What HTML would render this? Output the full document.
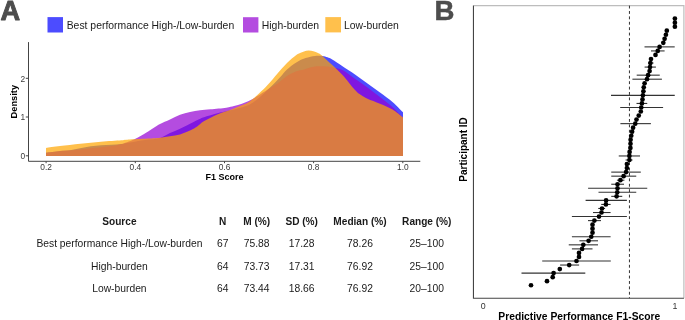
<!DOCTYPE html>
<html><head><meta charset="utf-8"><style>
html,body{margin:0;padding:0;background:#fff;}
body{width:685px;height:320px;overflow:hidden;position:relative;}
svg{position:absolute;left:0;top:0;will-change:transform;font-family:"Liberation Sans",sans-serif;}
</style></head><body>
<svg width="685" height="320" viewBox="0 0 685 320">
<text x="0.6" y="19.5" font-size="27.2" font-weight="bold" fill="#4d4d4d" stroke="#4d4d4d" stroke-width="0.9" stroke-linejoin="round">A</text>
<text x="434.4" y="19.8" font-size="27.6" font-weight="bold" fill="#4d4d4d" stroke="#4d4d4d" stroke-width="0.5" stroke-linejoin="round">B</text>
<rect x="47.5" y="17.1" width="15.5" height="15.4" fill="#0000ff" fill-opacity="0.7"/>
<rect x="243" y="17.2" width="15.4" height="15.3" fill="#9400d3" fill-opacity="0.7"/>
<rect x="325.3" y="17.1" width="15.7" height="15.3" fill="#ffa500" fill-opacity="0.7"/>
<g font-size="10.4" fill="#1a1a1a">
<text x="66.7" y="28.5">Best performance High-/Low-burden</text>
<text x="261.8" y="28.5">High-burden</text>
<text x="344" y="28.5">Low-burden</text>
</g>
<path d="M46.00,152.70 C48.33,152.42 56.00,151.42 60.00,151.00 C64.00,150.58 66.67,150.67 70.00,150.20 C73.33,149.73 76.55,148.85 80.00,148.20 C83.45,147.55 87.20,146.78 90.70,146.30 C94.20,145.82 97.62,145.55 101.00,145.30 C104.38,145.05 107.67,145.02 111.00,144.80 C114.33,144.58 117.83,144.38 121.00,144.00 C124.17,143.62 126.00,143.17 130.00,142.50 C134.00,141.83 140.00,140.75 145.00,140.00 C150.00,139.25 155.83,139.15 160.00,138.00 C164.17,136.85 166.67,134.64 170.00,133.10 C173.33,131.56 176.67,130.31 180.00,128.75 C183.33,127.19 187.08,125.21 190.00,123.75 C192.92,122.29 195.33,121.04 197.50,120.00 C199.67,118.96 200.82,118.28 203.00,117.50 C205.18,116.72 208.03,116.03 210.60,115.30 C213.17,114.57 216.05,113.72 218.40,113.10 C220.75,112.48 221.93,112.23 224.70,111.60 C227.47,110.97 230.83,110.48 235.00,109.30 C239.17,108.12 245.53,106.55 249.70,104.50 C253.87,102.45 256.62,99.83 260.00,97.00 C263.38,94.17 266.62,90.83 270.00,87.50 C273.38,84.17 277.47,80.02 280.30,77.00 C283.13,73.98 284.34,71.83 287.00,69.40 C289.66,66.97 293.15,64.28 296.25,62.40 C299.35,60.52 302.48,59.18 305.60,58.10 C308.73,57.02 312.18,56.25 315.00,55.90 C317.82,55.55 320.42,55.77 322.50,56.00 C324.58,56.23 325.88,56.72 327.50,57.30 C329.12,57.88 329.70,58.01 332.20,59.50 C334.70,60.99 338.70,63.75 342.50,66.25 C346.30,68.75 350.83,71.62 355.00,74.50 C359.17,77.38 363.33,80.50 367.50,83.50 C371.67,86.50 375.83,89.42 380.00,92.50 C384.17,95.58 388.67,98.70 392.50,102.00 C396.33,105.30 401.25,110.58 403.00,112.30 L403.00,156.00 L46.00,156.00 Z" fill="#0000ff" fill-opacity="0.7"/>
<path d="M46.00,152.80 C48.33,152.50 56.00,151.42 60.00,151.00 C64.00,150.58 66.67,150.57 70.00,150.30 C73.33,150.03 74.83,149.90 80.00,149.40 C85.17,148.90 95.17,147.95 101.00,147.30 C106.83,146.65 111.67,146.00 115.00,145.50 C118.33,145.00 119.00,144.85 121.00,144.30 C123.00,143.75 124.67,143.08 127.00,142.20 C129.33,141.32 131.53,140.75 135.00,139.00 C138.47,137.25 144.47,133.70 147.80,131.70 C151.13,129.70 152.97,128.30 155.00,127.00 C157.03,125.70 157.50,125.17 160.00,123.90 C162.50,122.63 166.67,120.93 170.00,119.40 C173.33,117.88 176.67,116.00 180.00,114.75 C183.33,113.50 186.67,112.65 190.00,111.90 C193.33,111.15 196.57,110.68 200.00,110.25 C203.43,109.82 206.22,109.73 210.60,109.30 C214.97,108.87 222.35,108.18 226.25,107.65 C230.15,107.12 231.39,106.75 234.00,106.10 C236.61,105.45 239.28,104.67 241.90,103.75 C244.52,102.83 246.68,102.14 249.70,100.60 C252.72,99.06 256.62,96.60 260.00,94.50 C263.38,92.40 267.08,89.85 270.00,88.00 C272.92,86.15 274.67,85.42 277.50,83.40 C280.33,81.38 283.88,77.93 287.00,75.90 C290.12,73.88 293.42,72.32 296.25,71.25 C299.08,70.18 301.14,70.26 304.00,69.50 C306.86,68.74 310.27,67.24 313.40,66.70 C316.53,66.16 319.67,66.17 322.80,66.25 C325.93,66.33 328.92,66.58 332.20,67.20 C335.48,67.83 338.70,68.08 342.50,70.00 C346.30,71.92 350.83,75.83 355.00,78.75 C359.17,81.67 363.33,84.46 367.50,87.50 C371.67,90.54 375.83,93.75 380.00,97.00 C384.17,100.25 388.67,103.57 392.50,107.00 C396.33,110.43 401.25,115.83 403.00,117.60 L403.00,156.00 L46.00,156.00 Z" fill="#9400d3" fill-opacity="0.7"/>
<path d="M46.00,147.90 C48.33,147.60 54.27,146.79 60.00,146.10 C65.73,145.41 73.58,144.48 80.40,143.75 C87.22,143.02 94.08,142.29 100.90,141.70 C107.72,141.11 116.45,140.58 121.30,140.20 C126.15,139.82 125.22,139.68 130.00,139.40 C134.78,139.12 145.00,138.78 150.00,138.50 C155.00,138.22 156.67,138.12 160.00,137.75 C163.33,137.38 166.67,136.81 170.00,136.25 C173.33,135.69 176.67,135.34 180.00,134.40 C183.33,133.46 187.08,131.96 190.00,130.60 C192.92,129.24 195.33,127.72 197.50,126.25 C199.67,124.78 200.82,123.21 203.00,121.80 C205.18,120.39 208.03,119.12 210.60,117.80 C213.17,116.48 215.79,114.99 218.40,113.90 C221.01,112.81 223.65,112.17 226.25,111.25 C228.85,110.33 231.39,109.39 234.00,108.40 C236.61,107.41 239.28,106.47 241.90,105.30 C244.52,104.13 246.85,103.37 249.70,101.40 C252.55,99.43 255.95,96.30 259.00,93.50 C262.05,90.70 264.92,87.95 268.00,84.60 C271.08,81.25 274.33,77.00 277.50,73.40 C280.67,69.80 283.92,66.02 287.00,63.00 C290.08,59.98 293.83,56.97 296.00,55.30 C298.17,53.63 298.67,53.65 300.00,53.00 C301.33,52.35 302.57,51.80 304.00,51.40 C305.43,51.00 307.03,50.62 308.60,50.60 C310.17,50.58 311.83,50.88 313.40,51.30 C314.97,51.72 316.58,52.40 318.00,53.10 C319.42,53.80 319.90,53.85 321.90,55.50 C323.90,57.15 326.57,59.75 330.00,63.00 C333.43,66.25 338.33,70.50 342.50,75.00 C346.67,79.50 351.92,86.67 355.00,90.00 C358.08,93.33 358.92,93.54 361.00,95.00 C363.08,96.46 364.33,97.29 367.50,98.75 C370.67,100.21 375.83,101.96 380.00,103.75 C384.17,105.54 388.67,107.21 392.50,109.50 C396.33,111.79 401.25,116.17 403.00,117.50 L403.00,156.00 L46.00,156.00 Z" fill="#ffa500" fill-opacity="0.7"/>
<g stroke="#444" stroke-width="1" fill="none">
<path d="M28.5,42.1 V161.3 H420.3"/>
<path d="M25.8,155.8 H28.5"/>
<path d="M25.8,117.0 H28.5"/>
<path d="M25.8,78.3 H28.5"/>
<path d="M46.1,161.3 V163.2"/>
<path d="M135.3,161.3 V163.2"/>
<path d="M224.5,161.3 V163.2"/>
<path d="M313.6,161.3 V163.2"/>
<path d="M402.8,161.3 V163.2"/>
</g>
<g font-size="8.4" fill="#3a3a3a">
<text x="25.2" y="159.1" text-anchor="end">0</text>
<text x="25.2" y="120.3" text-anchor="end">1</text>
<text x="25.2" y="81.6" text-anchor="end">2</text>
<text x="46.1" y="169.9" text-anchor="middle">0.2</text>
<text x="135.3" y="169.9" text-anchor="middle">0.4</text>
<text x="224.5" y="169.9" text-anchor="middle">0.6</text>
<text x="313.6" y="169.9" text-anchor="middle">0.8</text>
<text x="402.8" y="169.9" text-anchor="middle">1.0</text>
</g>
<text x="224.5" y="180" font-size="9" font-weight="bold" text-anchor="middle" fill="#000">F1 Score</text>
<text transform="translate(17.2,101.7) rotate(-90)" font-size="9.3" font-weight="bold" text-anchor="middle" fill="#000">Density</text>
<g font-size="10.1" text-anchor="middle" fill="#1a1a1a">
<text x="119.40" y="225.3" font-weight="bold">Source</text>
<text x="222.70" y="225.3" font-weight="bold">N</text>
<text x="256.65" y="225.3" font-weight="bold">M (%)</text>
<text x="301.70" y="225.3" font-weight="bold">SD (%)</text>
<text x="360.00" y="225.3" font-weight="bold">Median (%)</text>
<text x="426.80" y="225.3" font-weight="bold">Range (%)</text>
<text x="119.40" y="247.4" font-size="10.3">Best performance High-/Low-burden</text>
<text x="222.70" y="247.4" font-size="10.3">67</text>
<text x="256.65" y="247.4" font-size="10.3">75.88</text>
<text x="301.70" y="247.4" font-size="10.3">17.28</text>
<text x="360.00" y="247.4" font-size="10.3">78.26</text>
<text x="426.80" y="247.4" font-size="10.3">25–100</text>
<text x="119.40" y="269.8" font-size="10.3">High-burden</text>
<text x="222.70" y="269.8" font-size="10.3">64</text>
<text x="256.65" y="269.8" font-size="10.3">73.73</text>
<text x="301.70" y="269.8" font-size="10.3">17.31</text>
<text x="360.00" y="269.8" font-size="10.3">76.92</text>
<text x="426.80" y="269.8" font-size="10.3">25–100</text>
<text x="119.40" y="291.8" font-size="10.3">Low-burden</text>
<text x="222.70" y="291.8" font-size="10.3">64</text>
<text x="256.65" y="291.8" font-size="10.3">73.44</text>
<text x="301.70" y="291.8" font-size="10.3">18.66</text>
<text x="360.00" y="291.8" font-size="10.3">76.92</text>
<text x="426.80" y="291.8" font-size="10.3">20–100</text>
</g>
<path d="M473.75,5.6 H683.9 V298.25" stroke="#bdbdbd" stroke-width="1.2" fill="none"/>
<path d="M629.45,5.6 V298.25" stroke="#333" stroke-width="1" stroke-dasharray="2.9 2.5" fill="none"/>
<g stroke="#333" stroke-width="1.1">
<path d="M644.50,46.88 H674.70"/>
<path d="M651.00,50.92 H664.60"/>
<path d="M648.00,63.04 H653.50"/>
<path d="M644.60,67.08 H655.90"/>
<path d="M636.70,75.16 H659.75"/>
<path d="M632.40,79.20 H661.90"/>
<path d="M611.00,95.36 H674.75"/>
<path d="M636.50,103.44 H647.25"/>
<path d="M620.20,107.48 H663.10"/>
<path d="M620.40,123.64 H650.90"/>
<path d="M618.75,155.96 H640.00"/>
<path d="M625.60,160.00 H632.50"/>
<path d="M611.25,172.12 H640.80"/>
<path d="M611.25,176.16 H636.25"/>
<path d="M616.90,180.20 H624.40"/>
<path d="M611.25,184.24 H624.00"/>
<path d="M588.10,188.28 H647.25"/>
<path d="M598.50,192.32 H636.25"/>
<path d="M611.25,196.36 H622.25"/>
<path d="M585.60,200.40 H626.90"/>
<path d="M601.25,204.44 H610.60"/>
<path d="M598.20,208.48 H605.10"/>
<path d="M593.00,212.52 H610.60"/>
<path d="M571.90,216.56 H626.90"/>
<path d="M588.00,220.60 H601.00"/>
<path d="M571.90,236.76 H610.60"/>
<path d="M579.40,240.80 H598.00"/>
<path d="M568.75,244.84 H598.00"/>
<path d="M571.90,248.88 H592.50"/>
<path d="M542.20,261.00 H610.80"/>
<path d="M560.10,265.04 H579.10"/>
<path d="M521.50,273.12 H585.30"/>
</g>
<g fill="#000">
<circle cx="674.90" cy="18.60" r="2.35"/>
<circle cx="674.90" cy="22.64" r="2.35"/>
<circle cx="674.90" cy="26.68" r="2.35"/>
<circle cx="666.80" cy="30.72" r="2.35"/>
<circle cx="665.90" cy="34.76" r="2.35"/>
<circle cx="664.60" cy="38.80" r="2.35"/>
<circle cx="663.30" cy="42.84" r="2.35"/>
<circle cx="659.60" cy="46.88" r="2.35"/>
<circle cx="657.75" cy="50.92" r="2.35"/>
<circle cx="655.50" cy="54.96" r="2.35"/>
<circle cx="651.00" cy="59.00" r="2.35"/>
<circle cx="650.40" cy="63.04" r="2.35"/>
<circle cx="650.00" cy="67.08" r="2.35"/>
<circle cx="649.60" cy="71.12" r="2.35"/>
<circle cx="648.10" cy="75.16" r="2.35"/>
<circle cx="647.00" cy="79.20" r="2.35"/>
<circle cx="644.60" cy="83.24" r="2.35"/>
<circle cx="643.75" cy="87.28" r="2.35"/>
<circle cx="643.40" cy="91.32" r="2.35"/>
<circle cx="642.90" cy="95.36" r="2.35"/>
<circle cx="642.50" cy="99.40" r="2.35"/>
<circle cx="641.90" cy="103.44" r="2.35"/>
<circle cx="641.25" cy="107.48" r="2.35"/>
<circle cx="640.80" cy="111.52" r="2.35"/>
<circle cx="638.75" cy="115.56" r="2.35"/>
<circle cx="636.50" cy="119.60" r="2.35"/>
<circle cx="635.25" cy="123.64" r="2.35"/>
<circle cx="633.10" cy="127.68" r="2.35"/>
<circle cx="632.10" cy="131.72" r="2.35"/>
<circle cx="631.25" cy="135.76" r="2.35"/>
<circle cx="630.60" cy="139.80" r="2.35"/>
<circle cx="630.50" cy="143.84" r="2.35"/>
<circle cx="630.40" cy="147.88" r="2.35"/>
<circle cx="629.60" cy="151.92" r="2.35"/>
<circle cx="629.40" cy="155.96" r="2.35"/>
<circle cx="629.40" cy="160.00" r="2.35"/>
<circle cx="626.90" cy="164.04" r="2.35"/>
<circle cx="626.90" cy="168.08" r="2.35"/>
<circle cx="626.10" cy="172.12" r="2.35"/>
<circle cx="623.60" cy="176.16" r="2.35"/>
<circle cx="620.40" cy="180.20" r="2.35"/>
<circle cx="617.50" cy="184.24" r="2.35"/>
<circle cx="617.50" cy="188.28" r="2.35"/>
<circle cx="617.25" cy="192.32" r="2.35"/>
<circle cx="616.60" cy="196.36" r="2.35"/>
<circle cx="606.10" cy="200.40" r="2.35"/>
<circle cx="605.90" cy="204.44" r="2.35"/>
<circle cx="602.00" cy="208.48" r="2.35"/>
<circle cx="601.50" cy="212.52" r="2.35"/>
<circle cx="599.00" cy="216.56" r="2.35"/>
<circle cx="594.40" cy="220.60" r="2.35"/>
<circle cx="592.50" cy="224.64" r="2.35"/>
<circle cx="592.50" cy="228.68" r="2.35"/>
<circle cx="592.50" cy="232.72" r="2.35"/>
<circle cx="591.25" cy="236.76" r="2.35"/>
<circle cx="588.60" cy="240.80" r="2.35"/>
<circle cx="583.30" cy="244.84" r="2.35"/>
<circle cx="582.10" cy="248.88" r="2.35"/>
<circle cx="579.00" cy="252.92" r="2.35"/>
<circle cx="579.00" cy="256.96" r="2.35"/>
<circle cx="576.50" cy="261.00" r="2.35"/>
<circle cx="569.20" cy="265.04" r="2.35"/>
<circle cx="559.80" cy="269.08" r="2.35"/>
<circle cx="553.60" cy="273.12" r="2.35"/>
<circle cx="552.70" cy="277.16" r="2.35"/>
<circle cx="547.00" cy="281.20" r="2.35"/>
<circle cx="531.00" cy="285.24" r="2.35"/>
</g>
<path d="M473.45,5.6 V298.25 H683.9" stroke="#444" stroke-width="1.1" fill="none"/>
<g font-size="8.8" fill="#333" text-anchor="middle">
<text x="483.3" y="308.6">0</text>
<text x="675" y="308.7">1</text>
</g>
<text transform="translate(467.2,149.4) rotate(-90)" font-size="10" font-weight="bold" text-anchor="middle" fill="#000">Participant ID</text>
<text x="498.3" y="320.1" font-size="10.3" font-weight="bold" fill="#000">Predictive Performance F1-Score</text>
</svg>
</body></html>
